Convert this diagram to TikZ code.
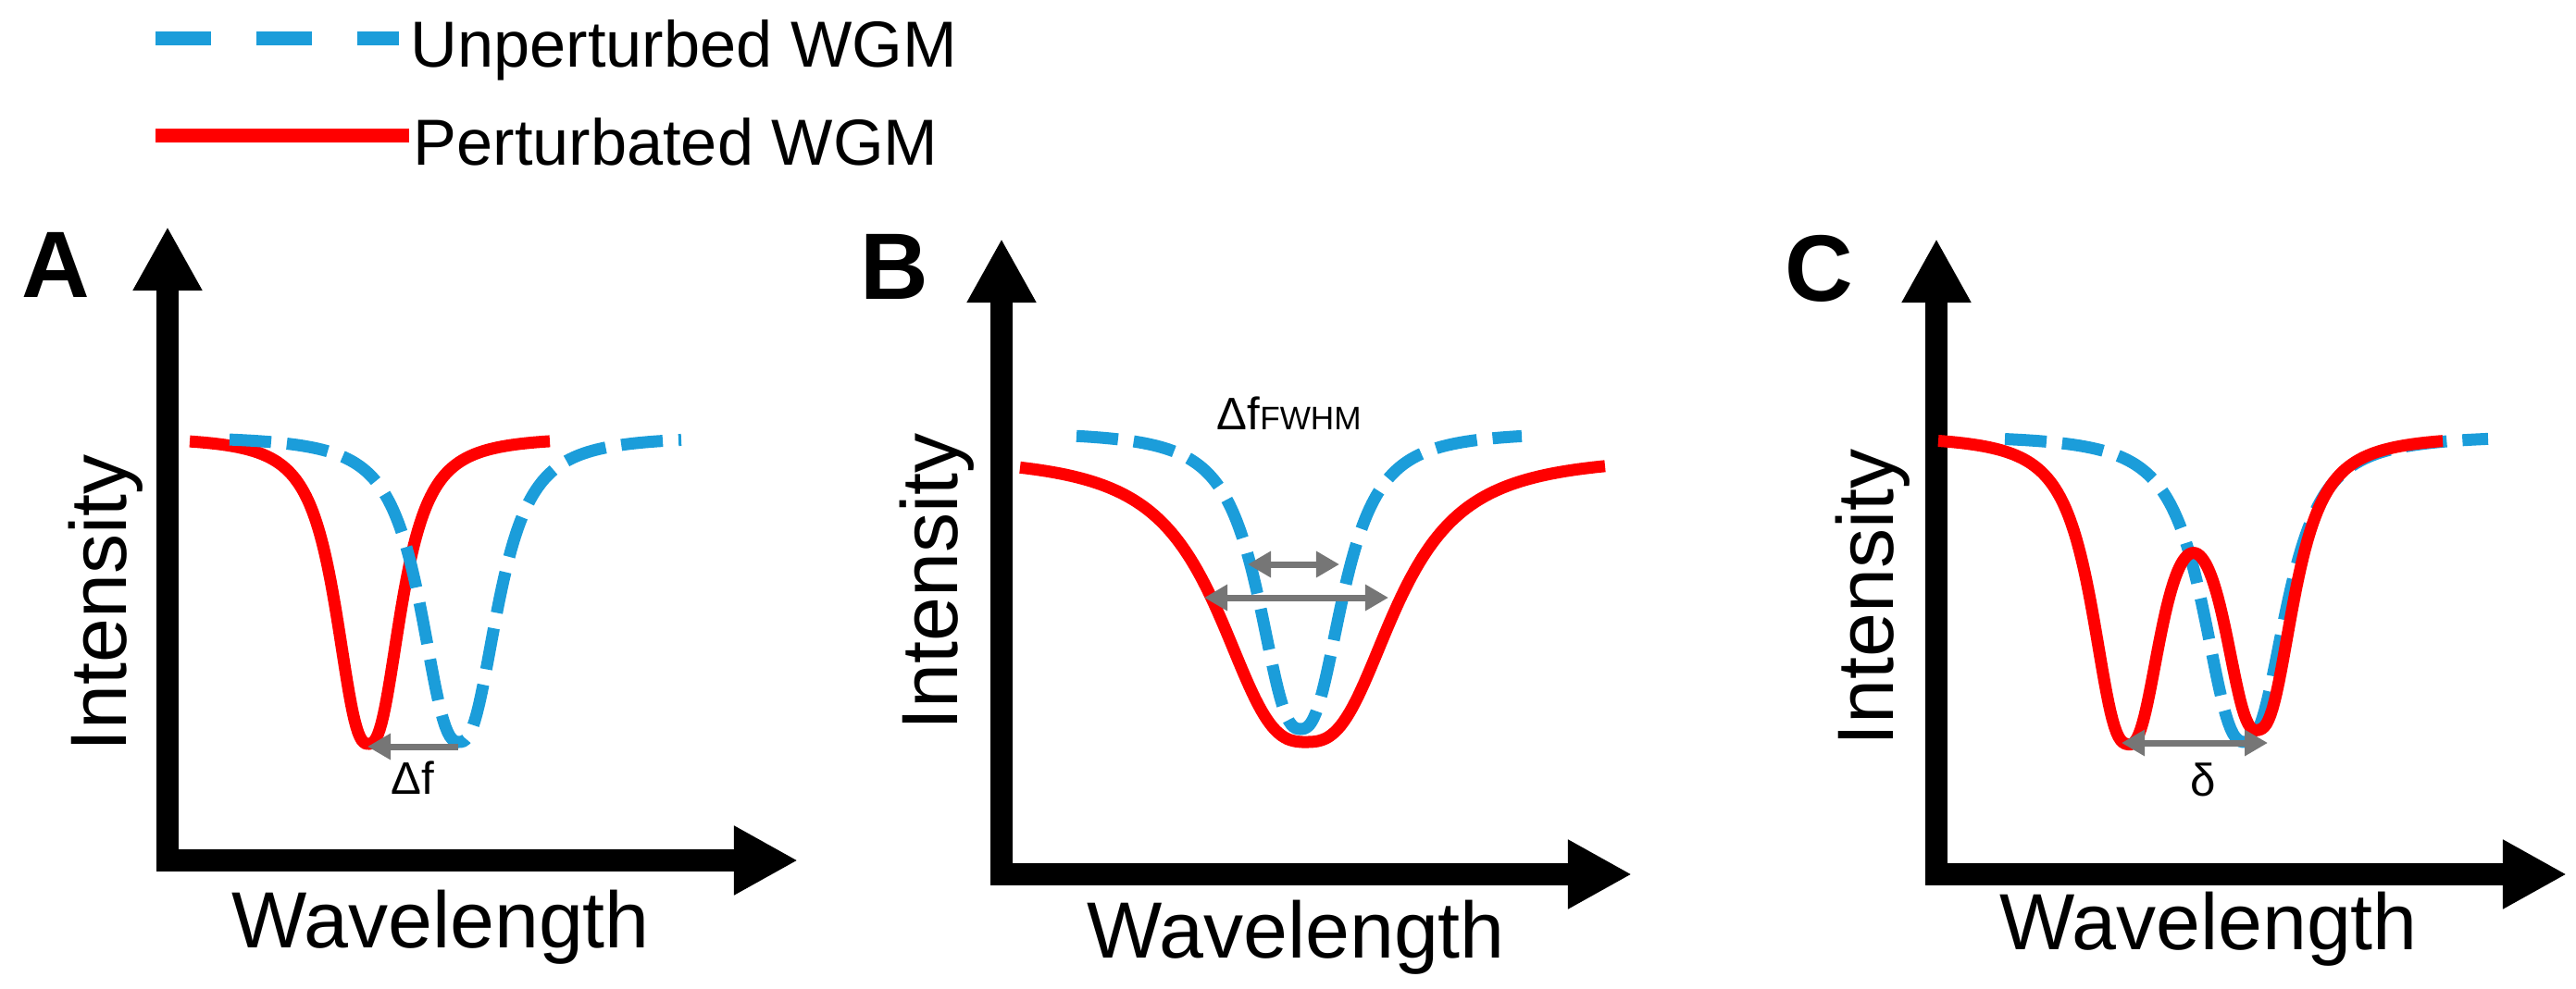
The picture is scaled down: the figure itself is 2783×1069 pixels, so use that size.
\documentclass[tikz,border=0pt]{standalone}
\usepackage{fontspec}
\setmainfont{Liberation Sans}
\usetikzlibrary{arrows.meta}

\definecolor{wgmblue}{RGB}{27,157,218}
\definecolor{wgmred}{RGB}{255,0,0}
\definecolor{shiftgray}{RGB}{118,118,118}

\tikzset{
  axis/.style={line width=0.24cm, line join=miter,
    {Triangle[length=0.69cm,width=0.70cm]}-{Triangle[length=0.69cm,width=0.70cm]}},
  unpert/.style={wgmblue, line width=0.13cm, dash pattern=on 0.45cm off 0.17cm},
  pert/.style={wgmred, line width=0.13cm},
  shiftarrow/.style={shiftgray, line width=0.07cm, -{Triangle[length=0.25cm,width=0.27cm]}},
  widtharrow/.style={shiftgray, line width=0.07cm,
    {Triangle[length=0.25cm,width=0.27cm]}-{Triangle[length=0.25cm,width=0.27cm]}},
  axlabel/.style={font=\fontsize{24.5}{28}\selectfont, inner sep=0pt},
  panel/.style={font=\fontsize{29}{34}\selectfont\bfseries, inner sep=0pt},
  legtext/.style={font=\fontsize{20}{24}\selectfont, inner sep=0pt, anchor=base west},
  marktext/.style={font=\fontsize{14}{17}\selectfont, inner sep=0pt}
}

\begin{document}
\begin{tikzpicture}[x=0.01cm, y=-0.01cm,
    declare function={dip(\x,\m,\s,\e)=1/(1+pow(abs(\x-\m)/\s+0.001,\e));}]
    \useasboundingbox (0,0) rectangle (2783,1069);

    % legend
    \coordinate (leg u start) at (168,41);
    \coordinate (leg u end) at (431,41);
    \coordinate (leg p start) at (168,146);
    \coordinate (leg p end) at (442,146);
    \draw[wgmblue, line width=0.15cm, dash pattern=on 0.6cm off 0.49cm] (leg u start) -- (leg u end);
    \draw[pert, line width=0.15cm] (leg p start) -- (leg p end);
    \node[legtext] (leg u) at (443,72) {Unperturbed WGM};
    \node[legtext] (leg p) at (446,178) {Perturbated WGM};

    % axes
    \foreach \p/\ox/\oy/\ty in {a/181/930/245, b/1082/945/258, c/2092/945/258}{
      \coordinate (\p top) at (\ox,\ty);
      \coordinate (\p end) at (\ox+681,\oy);
      \draw[axis] (\p top) |- (\p end);
    }

    \node[panel] (lab a) at (60,286) {A};
    \node[panel] (lab b) at (966,288) {B};
    \node[panel] (lab c) at (1965,290) {C};

    \node[axlabel, rotate=90] (int a) at (114,652) {Intensity};
    \node[axlabel, rotate=90] (int b) at (1012,629) {Intensity};
    \node[axlabel, rotate=90] (int c) at (2023,646) {Intensity};

    \node[axlabel] (wav a) at (476,1002) {Wavelength};
    \node[axlabel] (wav b) at (1400,1013) {Wavelength};
    \node[axlabel] (wav c) at (2386,1004) {Wavelength};

    % A: shifted mode
    \draw[pert] plot[domain=205:594, samples=200] (\x,{472+332*dip(\x,398,39,2.6)});
    \draw[unpert] plot[domain=248:736, samples=200] (\x,{471+331*dip(\x,496,46,2.6)});
    \coordinate (red min a) at (397,807);
    \coordinate (blue min a) at (495,807);
    \draw[shiftarrow] (blue min a) -- (red min a);
    \node[marktext] (df a) at (446,841) {Δf};

    % B: broadened mode
    \draw[pert] plot[domain=1102:1734, samples=200] (\x,{492+310*dip(\x,1411,102,2.8)});
    \draw[unpert] plot[domain=1163:1644, samples=200] (\x,{466+322*dip(\x,1405,50,2.6)});
    \coordinate (inner l) at (1348,610);
    \coordinate (inner r) at (1447,610);
    \coordinate (outer l) at (1301,646);
    \coordinate (outer r) at (1500,646);
    \draw[widtharrow] (inner l) -- (inner r);
    \draw[widtharrow] (outer l) -- (outer r);
    \node[marktext, anchor=base west] (fwhm b) at (1314,464) {Δf{\fontsize{10}{12}\selectfont FWHM}};

    % C: split mode
    \draw[unpert] plot[domain=2166:2688, samples=200] (\x,{470+332*dip(\x,2425,50,2.6)});
    \draw[pert] plot[domain=2094:2639, samples=250]
      (\x,{470+322*dip(\x,2298,42,2.6)+306*dip(\x,2440,42,2.6)});
    \coordinate (split l) at (2292,803);
    \coordinate (split r) at (2450,803);
    \draw[widtharrow] (split l) -- (split r);
    \node[marktext] (delta c) at (2380,843) {δ};

  \end{tikzpicture}
\end{document}
